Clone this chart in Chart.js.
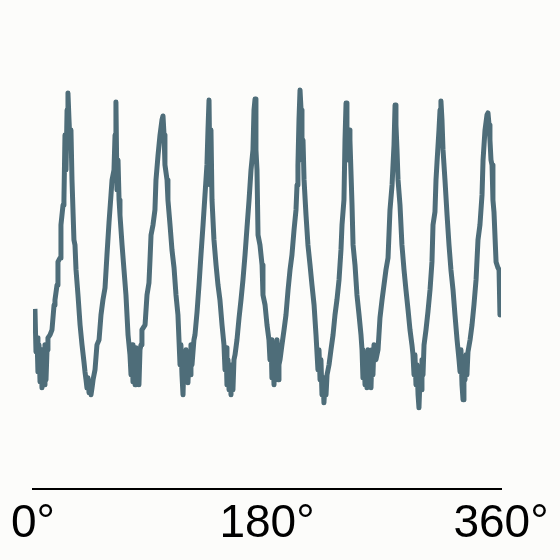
<!DOCTYPE html>
<html>
<head>
<meta charset="utf-8">
<script src="https://cdn.jsdelivr.net/npm/chart.js@4/dist/chart.umd.min.js"></script>
<style>
  html, body { margin: 0; padding: 0; background: #fcfcfa; }
  #wrap { width: 560px; height: 560px; }
</style>
</head>
<body>
<div id="wrap"><canvas id="c" width="560" height="560"></canvas></div>
<script>
// angle in degrees
var angles = [
  1.5, 2.3, 3.1, 3.8, 4.6, 5.4, 6.2, 6.9, 7.7, 8.5, 9.2, 10.0, 10.8, 11.5, 13.1, 14.6,
  16.2, 16.9, 18.5, 19.2, 20.8, 21.5, 23.1, 23.8, 24.6, 25.4, 26.2, 26.9, 27.7, 28.5, 29.2, 30.0,
  31.5, 32.3, 33.1, 34.6, 36.2, 37.7, 39.2, 40.0, 40.8, 41.5, 42.3, 43.1, 43.8, 44.6, 45.4, 46.2,
  47.7, 49.2, 50.8, 52.3, 53.8, 55.4, 56.9, 58.5, 60.0, 60.8, 62.3, 63.1, 63.8, 64.6, 65.4, 66.2,
  66.9, 68.5, 70.0, 71.5, 73.1, 74.6, 75.4, 76.2, 76.9, 77.7, 78.5, 79.2, 80.0, 80.8, 81.5, 82.3,
  83.1, 83.8, 86.2, 87.7, 89.2, 90.0, 90.8, 92.3, 93.8, 94.6, 96.2, 97.7, 99.2, 100.0, 100.8, 101.5,
  103.1, 103.8, 105.4, 106.9, 108.5, 110.0, 111.5, 112.3, 113.1, 113.8, 114.6, 115.4, 116.2, 116.9, 117.7, 118.5,
  119.2, 120.0, 120.8, 121.5, 122.3, 123.8, 124.6, 126.2, 127.7, 129.2, 130.8, 132.3, 133.8, 134.6, 135.4, 136.2,
  136.9, 137.7, 139.2, 140.8, 142.3, 143.8, 145.4, 146.9, 147.7, 148.5, 149.2, 150.0, 150.8, 151.5, 152.3, 153.1,
  153.8, 154.6, 155.4, 156.9, 158.5, 160.0, 161.5, 163.1, 164.6, 166.2, 167.7, 169.2, 170.0, 170.8, 171.5, 172.3,
  173.1, 174.6, 176.2, 176.9, 178.5, 180.0, 181.5, 182.3, 183.1, 183.8, 184.6, 185.4, 186.2, 186.9, 187.7, 188.5,
  189.2, 190.0, 191.5, 193.1, 194.6, 196.2, 197.7, 199.2, 200.8, 202.3, 203.1, 203.8, 204.6, 205.4, 206.2, 206.9,
  207.7, 208.5, 210.0, 211.5, 213.1, 214.6, 216.2, 217.7, 219.2, 220.0, 220.8, 221.5, 222.3, 223.1, 223.8, 224.6,
  225.4, 226.2, 227.7, 229.2, 230.8, 232.3, 233.8, 235.4, 236.9, 237.7, 239.2, 240.0, 240.8, 241.5, 242.3, 243.1,
  243.8, 245.4, 246.2, 247.7, 249.2, 250.8, 252.3, 253.1, 253.8, 254.6, 255.4, 256.2, 256.9, 257.7, 258.5, 259.2,
  260.0, 260.8, 261.5, 262.3, 263.8, 265.4, 266.9, 268.5, 270.0, 271.5, 273.1, 274.6, 276.2, 277.7, 278.5, 279.2,
  280.0, 280.8, 282.3, 283.8, 285.4, 286.9, 288.5, 290.0, 291.5, 292.3, 293.1, 293.8, 294.6, 295.4, 296.2, 296.9,
  297.7, 298.5, 299.2, 300.0, 300.8, 302.3, 303.8, 305.4, 306.9, 307.7, 309.2, 310.0, 310.8, 312.3, 313.1, 313.8,
  314.6, 315.4, 316.9, 318.5, 320.0, 321.5, 323.1, 324.6, 326.2, 327.7, 328.5, 329.2, 330.0, 330.8, 331.5, 332.3,
  333.1, 333.8, 334.6, 336.2, 337.7, 339.2, 340.8, 342.3, 343.8, 345.4, 346.2, 347.7, 349.2, 350.0, 350.8, 351.5,
  352.3, 353.1, 353.8, 354.6, 356.2, 357.7, 358.5, 359.2
];

var values = [
  1.80, 1.37, 1.51, 1.17, 1.44, 1.07, 1.39, 1.01, 1.29, 1.04, 1.44, 1.09, 1.39, 1.51, 1.54, 1.59,
  1.84, 1.89, 2.04, 2.27, 2.31, 2.64, 2.84, 2.89, 3.54, 3.19, 3.79, 3.96, 3.69, 3.44, 3.59, 3.09,
  2.49, 2.44, 2.19, 1.94, 1.64, 1.44, 1.27, 1.17, 1.09, 1.01, 1.11, 0.96, 1.04, 0.94, 1.01, 1.09,
  1.19, 1.44, 1.49, 1.74, 1.89, 2.01, 2.34, 2.67, 2.94, 3.09, 3.19, 3.54, 3.87, 2.99, 3.29, 2.89,
  2.74, 2.44, 2.19, 1.94, 1.54, 1.34, 1.14, 1.44, 1.07, 1.39, 1.04, 1.41, 1.14, 1.34, 1.04, 1.39,
  1.44, 1.59, 1.64, 1.94, 2.06, 2.29, 2.54, 2.64, 2.79, 3.09, 3.34, 3.54, 3.69, 3.73, 3.54, 3.24,
  3.09, 2.89, 2.64, 2.39, 2.21, 1.94, 1.74, 1.49, 1.24, 1.44, 1.14, 0.94, 1.34, 1.09, 1.39, 1.24,
  1.06, 1.34, 1.14, 1.44, 1.24, 1.49, 1.54, 1.77, 2.04, 2.34, 2.64, 2.94, 3.24, 3.59, 3.89, 3.04,
  3.59, 2.89, 2.49, 2.24, 2.04, 1.89, 1.64, 1.44, 1.19, 1.41, 1.04, 1.29, 0.99, 1.19, 0.94, 1.24,
  0.99, 1.29, 1.34, 1.49, 1.71, 1.89, 2.09, 2.34, 2.61, 2.89, 3.19, 3.39, 3.79, 3.90, 3.39, 3.19,
  2.54, 2.44, 2.24, 1.94, 1.84, 1.64, 1.49, 1.29, 1.49, 1.11, 1.34, 1.04, 1.39, 1.14, 1.49, 1.09,
  1.24, 1.29, 1.44, 1.59, 1.74, 1.99, 2.19, 2.34, 2.59, 2.79, 3.04, 3.24, 3.69, 3.99, 3.79, 3.29,
  3.49, 3.09, 2.74, 2.44, 2.24, 2.04, 1.84, 1.54, 1.19, 1.39, 1.09, 1.29, 0.94, 1.11, 0.86, 1.04,
  0.94, 1.14, 1.24, 1.39, 1.54, 1.74, 1.89, 2.09, 2.39, 2.64, 2.89, 3.49, 3.86, 3.54, 3.29, 3.59,
  3.49, 2.84, 2.44, 2.24, 1.94, 1.74, 1.54, 1.39, 1.11, 1.34, 1.04, 1.29, 1.01, 1.39, 1.09, 1.34,
  1.01, 1.39, 1.14, 1.44, 1.29, 1.39, 1.71, 1.89, 2.04, 2.19, 2.31, 2.79, 3.04, 3.44, 3.84, 3.64,
  3.39, 3.09, 2.84, 2.44, 2.19, 1.99, 1.79, 1.59, 1.44, 1.34, 1.14, 1.34, 1.04, 1.24, 0.94, 0.81,
  1.11, 0.99, 1.29, 1.14, 1.44, 1.59, 1.77, 1.99, 2.27, 2.64, 2.77, 3.09, 3.27, 3.59, 3.79, 3.88,
  3.69, 3.39, 3.09, 2.74, 2.44, 2.19, 1.99, 1.74, 1.49, 1.29, 1.17, 1.39, 1.04, 0.89, 1.19, 1.09,
  1.34, 1.14, 1.37, 1.49, 1.64, 1.84, 2.09, 2.49, 2.64, 2.94, 3.29, 3.59, 3.74, 3.76, 3.64, 3.49,
  3.29, 3.24, 2.89, 2.77, 2.27, 2.21, 2.19, 1.74
];

var tickValues = [0, 180, 360];

var points = [];
for (var i = 0; i < angles.length; i++) {
  points.push({ x: angles[i], y: values[i] });
}

var bgPlugin = {
  id: 'bg',
  beforeDraw: function(chart) {
    var ctx = chart.ctx;
    ctx.save();
    ctx.fillStyle = '#fcfcfa';
    ctx.fillRect(0, 0, chart.width, chart.height);
    ctx.restore();
  }
};

new Chart(document.getElementById('c'), {
  type: 'line',
  data: {
    datasets: [{
      data: points,
      borderColor: '#4e6d79',
      borderWidth: 5,
      pointRadius: 0,
      tension: 0,
      borderJoinStyle: 'round',
      fill: false
    }]
  },
  options: {
    responsive: false,
    animation: false,
    layout: { padding: { left: 33, right: 59, top: 39, bottom: 0 } },
    plugins: { legend: { display: false }, tooltip: { enabled: false } },
    scales: {
      x: {
        type: 'linear',
        min: 0,
        max: 360,
        afterBuildTicks: function(scale) {
          scale.ticks = tickValues.map(function(v) { return { value: v }; });
        },
        ticks: {
          color: '#000',
          padding: 8,
          maxRotation: 0,
          font: { family: 'Liberation Sans, Arial, Helvetica, sans-serif', size: 46 },
          callback: function(v) { return v + '°'; }
        },
        grid: { display: false, drawTicks: false },
        border: { display: true, color: '#000', width: 2 }
      },
      y: {
        display: false,
        min: 0,
        max: 4.5
      }
    }
  },
  plugins: [bgPlugin]
});
</script>
</body>
</html>
